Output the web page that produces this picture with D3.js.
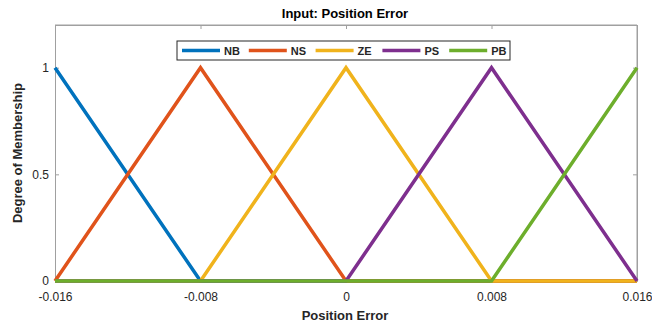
<!DOCTYPE html>
<html>
<head>
<meta charset="utf-8">
<script src="https://cdn.jsdelivr.net/npm/d3@7"></script>
<style>
  body { margin: 0; background: #fff; }
  text { font-family: Arial, "Liberation Sans", sans-serif; }
</style>
</head>
<body>
<script>
// membership functions for the position error input
var names = ["NB", "NS", "ZE", "PS", "PB"]
var colors = ["#0072BD", "#E0531B", "#F0B31C", "#7E2F8E", "#6DAE2C"]
// triangle params [a, b, c] for each set
var params = [
  [-0.024, -0.016, -0.008],
  [-0.016, -0.008, 0],
  [-0.008, 0, 0.008],
  [0, 0.008, 0.016],
  [0.008, 0.016, 0.024]
]
var xTicks = [-0.016, -0.008, 0, 0.008, 0.016]
var xTickLabels = ["-0.016", "-0.008", "0", "0.008", "0.016"]
var yTicks = [0, 0.5, 1]
var yTickLabels = ["0", "0.5", "1"]
// points where the curves change slope
var xBreaks = [-0.016, -0.008, 0, 0.008, 0.016]

var W = 652, H = 324
var m = { left: 55, right: 15, top: 25, bottom: 43 }

var svg = d3.select("body").append("svg")
  .attr("width", W).attr("height", H)

var x = d3.scaleLinear().domain([-0.016, 0.016]).range([m.left, W - m.right])
var y = d3.scaleLinear().domain([0, 1.2]).range([H - m.bottom, m.top])

function trimf(v, p) {
  var a = p[0], b = p[1], c = p[2]
  if (v <= a || v >= c) return 0
  if (v <= b) return (v - a) / (b - a)
  return (c - v) / (c - b)
}

var axisColor = "#a0a0a0"
var txtColor = "#262626"

// box: top and right edges
svg.append("line").attr("x1", x(-0.016)).attr("x2", x(0.016))
  .attr("y1", y(1.2)).attr("y2", y(1.2)).attr("stroke", axisColor)
svg.append("line").attr("x1", x(0.016)).attr("x2", x(0.016))
  .attr("y1", y(0)).attr("y2", y(1.2)).attr("stroke", axisColor)

// axes
svg.append("g").attr("transform", "translate(0," + y(0) + ")")
  .call(d3.axisBottom(x).tickValues(xTicks).tickSize(0).tickPadding(11)
    .tickFormat(function (d, i) { return xTickLabels[i] }))
svg.append("g").attr("transform", "translate(" + x(-0.016) + ",0)")
  .call(d3.axisLeft(y).tickValues(yTicks).tickSize(-4).tickPadding(6)
    .tickFormat(function (d, i) { return yTickLabels[i] }))
svg.append("g").attr("transform", "translate(0," + y(1.2) + ")")
  .call(d3.axisBottom(x).tickValues(xTicks).tickSize(4).tickFormat(""))
svg.append("g").attr("transform", "translate(" + x(0.016) + ",0)")
  .call(d3.axisRight(y).tickValues(yTicks).tickSize(-4).tickFormat(""))

svg.selectAll(".domain").attr("stroke", axisColor)
svg.selectAll(".tick line").attr("stroke", axisColor)
svg.selectAll(".tick text").attr("fill", txtColor).style("font-size", "12px")
  .style("font-family", "Arial, 'Liberation Sans', sans-serif")

// curves
var line = d3.line().x(function (d) { return x(d[0]) }).y(function (d) { return y(d[1]) })
params.forEach(function (p, i) {
  var pts = xBreaks.map(function (v) { return [v, trimf(v, p)] })
  svg.append("path").datum(pts)
    .attr("d", line)
    .attr("fill", "none")
    .attr("stroke", colors[i])
    .attr("stroke-width", 3.5)
    .attr("stroke-linejoin", "miter")
})

// legend
var lg = svg.append("g").attr("transform", "translate(177,41)")
lg.append("rect").attr("width", 333).attr("height", 19)
  .attr("fill", "#fff").attr("stroke", "#262626").attr("stroke-width", 1)
names.forEach(function (n, i) {
  var ox = 5 + i * 66.8
  lg.append("line").attr("x1", ox).attr("x2", ox + 38)
    .attr("y1", 9.5).attr("y2", 9.5)
    .attr("stroke", colors[i]).attr("stroke-width", 3.5)
  lg.append("text").attr("x", ox + 42).attr("y", 13.5)
    .attr("fill", txtColor).style("font-size", "11px").style("font-weight", "bold")
    .text(n)
})

// title and labels
svg.append("text").attr("x", 345).attr("y", 18).attr("text-anchor", "middle")
  .attr("fill", "#000").style("font-size", "13px").style("font-weight", "bold")
  .text("Input: Position Error")
svg.append("text").attr("x", 345).attr("y", 320).attr("text-anchor", "middle")
  .attr("fill", txtColor).style("font-size", "13px").style("font-weight", "bold")
  .text("Position Error")
svg.append("text").attr("transform", "translate(22,153) rotate(-90)")
  .attr("text-anchor", "middle")
  .attr("fill", txtColor).style("font-size", "13px").style("font-weight", "bold")
  .text("Degree of Membership")
</script>
</body>
</html>
